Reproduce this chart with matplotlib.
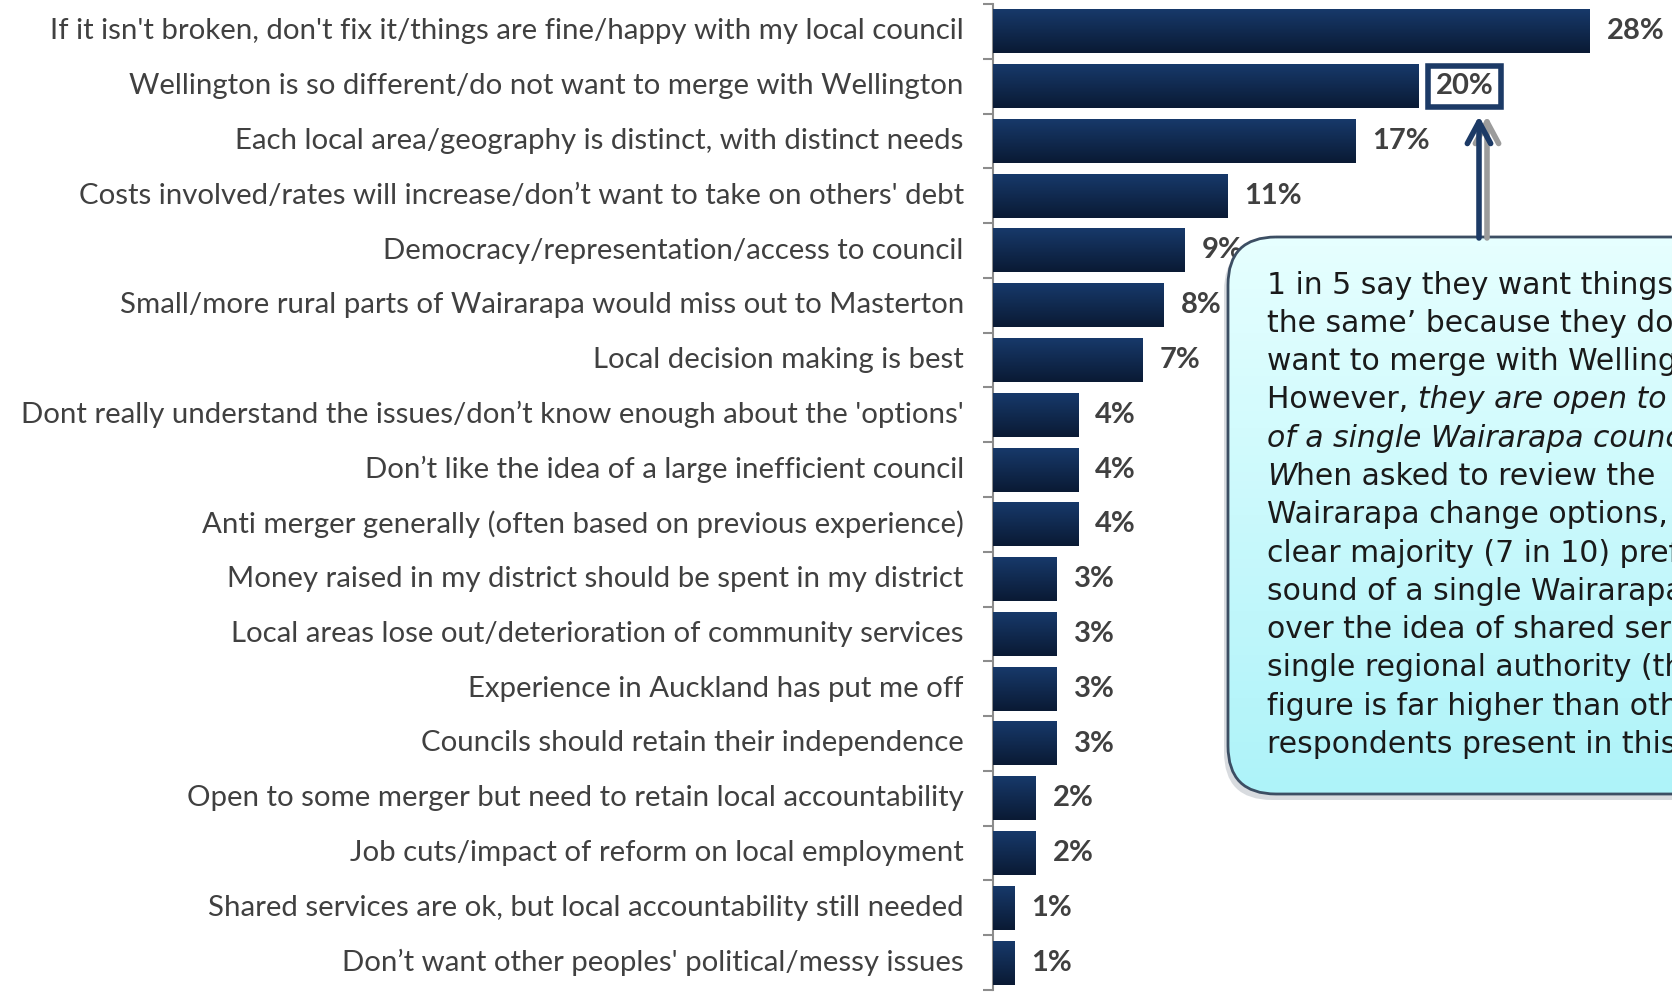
import numpy as np
import matplotlib.pyplot as plt
from matplotlib.patches import FancyBboxPatch
from matplotlib.colors import LinearSegmentedColormap

# reasons for keeping things as they are, % of respondents
reasons = [
    "If it isn't broken, don't fix it/things are fine/happy with my local council",
    "Wellington is so different/do not want to merge with Wellington",
    "Each local area/geography is distinct, with distinct needs",
    "Costs involved/rates will increase/don\u2019t want to take on others' debt",
    "Democracy/representation/access to council",
    "Small/more rural parts of Wairarapa would miss out to Masterton",
    "Local decision making is best",
    "Dont really understand the issues/don\u2019t know enough about the 'options'",
    "Don\u2019t like the idea of a large inefficient council",
    "Anti merger generally (often based on previous experience)",
    "Money raised in my district should be spent in my district",
    "Local areas lose out/deterioration of community services",
    "Experience in Auckland has put me off",
    "Councils should retain their independence",
    "Open to some merger but need to retain local accountability",
    "Job cuts/impact of reform on local employment",
    "Shared services are ok, but local accountability still needed",
    "Don\u2019t want other peoples' political/messy issues",
]
shares = [28, 20, 17, 11, 9, 8, 7, 4, 4, 4, 3, 3, 3, 3, 2, 2, 1, 1]
highlight = 1

# callout text, (text, italic) pieces per line
note_lines = [
    [("1 in 5 say they want things \u2018to stay", False)],
    [("the same\u2019 because they do not", False)],
    [("want to merge with Wellington.", False)],
    [("However, ", False), ("they are open to the idea", True)],
    [("of a single Wairarapa council.", True)],
    [("W", True), ("hen asked to review the", False)],
    [("Wairarapa change options, a", False)],
    [("clear majority (7 in 10) prefer the", False)],
    [("sound of a single Wairarapa council", False)],
    [("over the idea of shared services or a", False)],
    [("single regional authority (this", False)],
    [("figure is far higher than other", False)],
    [("respondents present in this survey).", False)],
]

NAVY = "#1c3a66"
GREY_TXT = "#404040"
LABEL_FONT = ["Lato", "DejaVu Sans"]

W, H = 1672, 994
fig = plt.figure(figsize=(W / 100, H / 100), dpi=100)
ax = fig.add_axes([993 / W, 4 / H, (W - 993) / W, 986 / H])

y = np.arange(len(reasons))
bars = ax.barh(y, shares, height=0.8, color="#0f2a4f", edgecolor="none", zorder=2)

# vertical gradient on each bar
grad = np.linspace(0, 1, 64).reshape(-1, 1)
bar_cmap = LinearSegmentedColormap.from_list("navy", ["#17396a", "#0a1a34"])
for b in bars:
    x0, y0, w, h = b.get_x(), b.get_y(), b.get_width(), b.get_height()
    ax.imshow(grad, cmap=bar_cmap, aspect="auto", extent=(x0, x0 + w, y0 + h, y0), zorder=3)

for i, v in enumerate(shares):
    kw = {}
    if i == highlight:
        kw["bbox"] = dict(boxstyle="square,pad=0.26", fc="white", ec=NAVY, lw=4)
    ax.text(v + 0.8, i, f"{v}%", va="center", ha="left", fontsize=21,
            fontweight="bold", color=GREY_TXT, family=LABEL_FONT, zorder=4, **kw)

ax.set_xlim(0, (W - 993) / 21.3)
ax.set_ylim(len(reasons) - 0.5, -0.5)
ax.set_xticks([])
ax.set_yticks(y, labels=reasons)
ax.set_yticks(np.arange(-0.5, len(reasons), 1), minor=True)
ax.tick_params(axis="y", which="major", length=0, pad=21, labelsize=21.2, labelcolor=GREY_TXT)
ax.tick_params(axis="y", which="minor", length=7, width=1.5, color="#8c8c8c")
for lab in ax.get_yticklabels():
    lab.set_family(LABEL_FONT)
    lab.set_verticalalignment("center")
for s in ["top", "right", "bottom"]:
    ax.spines[s].set_visible(False)
ax.spines["left"].set_color("#8c8c8c")
ax.spines["left"].set_linewidth(1.5)

# overlay in pixel units for the callout and arrow
ov = fig.add_axes([0, 0, 1, 1], zorder=5)
ov.patch.set_alpha(0)

bx, by, bw, bh = 1228, 237, 620, 557
shadow = FancyBboxPatch((bx - 4, by + 6), bw, bh, boxstyle="round,pad=0,rounding_size=48",
                        fc="#7f8a96", ec="none", alpha=0.3, zorder=1)
ov.add_patch(shadow)
box = FancyBboxPatch((bx, by), bw, bh, boxstyle="round,pad=0,rounding_size=48",
                     fc="none", ec="#3c4e63", lw=2, zorder=3)
ov.add_patch(box)
cyan = LinearSegmentedColormap.from_list("cyan", ["#e6ffff", "#aef3f9"])
im = ov.imshow(grad, cmap=cyan, aspect="auto", extent=(bx, bx + bw, by + bh, by), zorder=2)
im.set_clip_path(box)

line_y0, line_step = 285, 38.3
for k, pieces in enumerate(note_lines):
    prev = None
    for txt, ital in pieces:
        style = "italic" if ital else "normal"
        if prev is None:
            prev = ov.text(1267, line_y0 + k * line_step, txt, va="center", ha="left",
                           fontsize=21.5, style=style, color="#1a1a1a", family="DejaVu Sans", zorder=4)
        else:
            prev = ov.annotate(txt, xy=(1, 0), xycoords=prev, va="bottom", ha="left",
                               fontsize=21.5, style=style, color="#1a1a1a", family="DejaVu Sans", zorder=4)

# arrow from the callout up to the highlighted value, with a soft shadow
for xa, col in [(1487, "#9c9c9c"), (1479, NAVY)]:
    ov.annotate("", xy=(xa, 116), xytext=(xa, 238),
                arrowprops=dict(arrowstyle="->,head_length=0.78,head_width=0.42", color=col,
                                lw=4, shrinkA=0, shrinkB=0, mutation_scale=20), zorder=4)

ov.set_xlim(0, W)
ov.set_ylim(H, 0)
ov.axis("off")

fig.savefig("out.png", dpi=100)
